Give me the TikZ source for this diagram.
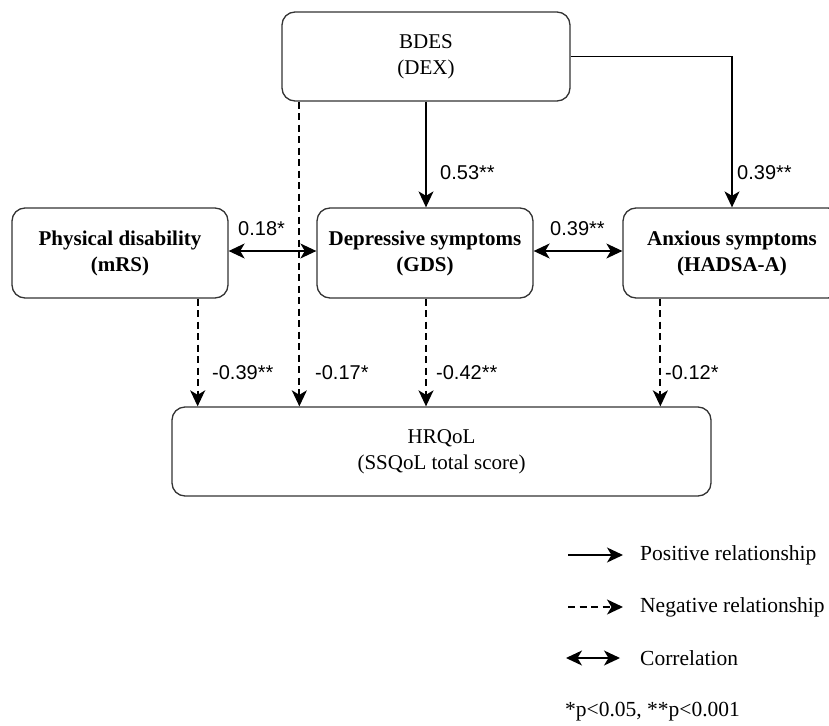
\documentclass[tikz,border=0pt]{standalone}
\usepackage{fontspec}
\setmainfont{Liberation Serif}
\newfontfamily\numfont{Liberation Sans}
\usetikzlibrary{arrows.meta}
\begin{document}
\begin{tikzpicture}[x=1pt,y=-1pt,
  box/.style={draw=black!80, line width=1.3pt, rounded corners=13pt, align=center, inner sep=0pt, font=\fontsize{21}{26}\selectfont},
  bbox/.style={box, font=\fontsize{21}{26}\selectfont\bfseries},
  tip/.style={-{Stealth[length=16pt,width=15pt,inset=4.5pt]}},
  dtip/.style={{Stealth[length=16pt,width=15pt,inset=4.5pt]}-{Stealth[length=16pt,width=15pt,inset=4.5pt]}},
  conn/.style={line width=1.4pt},
  neg/.style={line width=1.8pt, dash pattern=on 7pt off 4.5pt, tip},
  lab/.style={font=\numfont\fontsize{20}{22}\selectfont, anchor=west, inner sep=0pt},
  leg/.style={font=\fontsize{21.5}{24}\selectfont, anchor=west, inner sep=0pt}]
\useasboundingbox (0,0) rectangle (829,725);
\clip (0,0) rectangle (829,725);
\node[box, minimum width=288pt, minimum height=89pt] (bdes) at (426,56.5) {BDES\\(DEX)};
\node[bbox, minimum width=216pt, minimum height=90pt] (phys) at (120,253) {Physical disability\\(mRS)};
\node[bbox, minimum width=216pt, minimum height=90pt] (dep) at (425,253) {Depressive symptoms\\(GDS)};
\node[bbox, minimum width=218pt, minimum height=90pt] (anx) at (732,253) {Anxious symptoms\\(HADSA-A)};
\node[box, minimum width=539pt, minimum height=89pt] (hrq) at (441.5,451.5) {HRQoL\\(SSQoL total score)};

% positive
\draw[conn, tip] (bdes.south) -- (bdes.south |- dep.north);
\draw[conn, tip] (bdes.east) -| (anx.north);
% correlations
\draw[conn, dtip] ([yshift=2pt]phys.east) -- ([yshift=2pt]dep.west);
\draw[conn, dtip] ([yshift=2pt]dep.east) -- ([yshift=2pt]anx.west);
% negative
\coordinate (bd) at ([xshift=18pt]bdes.south west);
\draw[neg] (bd) -- (bd |- hrq.north);
\coordinate (ph) at ([xshift=-31pt]phys.south east);
\draw[neg] (ph) -- (ph |- hrq.north);
\coordinate (de) at ([xshift=1pt]dep.south);
\draw[neg] (de) -- (de |- hrq.north);
\coordinate (an) at ([xshift=38pt]anx.south west);
\draw[neg] (an) -- (an |- hrq.north);

% labels
\node[lab] (l1) at (440,173) {0.53**};
\node[lab] (l2) at (737,173) {0.39**};
\node[lab] (l3) at (238,229) {0.18*};
\node[lab] (l4) at (550,229) {0.39**};
\node[lab] (l5) at (212,373) {-0.39**};
\node[lab] (l6) at (315,373) {-0.17*};
\node[lab] (l7) at (436,373) {-0.42**};
\node[lab] (l8) at (665,373) {-0.12*};

% legend
\coordinate (pa) at (568,555); \coordinate (pb) at (623,555);
\draw[conn, tip] (pa) -- (pb);
\node[leg] (pt) at (640,555) {Positive relationship};
\coordinate (na) at (568,607); \coordinate (nb) at (623,607);
\draw[neg] (na) -- (nb);
\node[leg] (nt) at (640,607) {Negative relationship};
\coordinate (ca) at (566,658); \coordinate (cb) at (620,658);
\draw[conn, dtip] (ca) -- (cb);
\node[leg] (ct) at (640,658) {Correlation};
\node[leg] (st) at (565,712) {*p<0.05, **p<0.001};
\end{tikzpicture}
\end{document}
